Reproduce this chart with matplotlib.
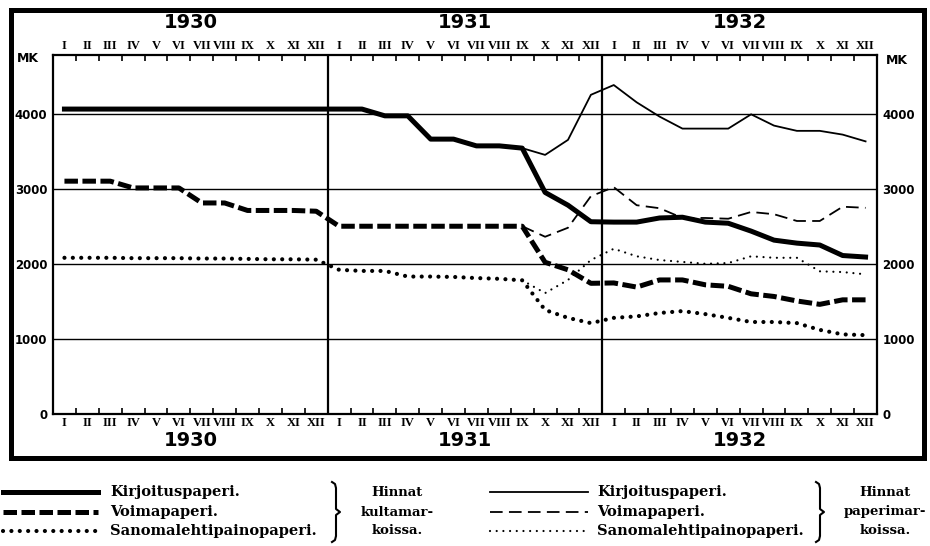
import matplotlib
matplotlib.use("Agg")
import matplotlib.pyplot as plt
from matplotlib.lines import Line2D
from matplotlib.patches import Rectangle

# months: 1930 I .. 1932 XII, plotted mid-month
months = ["I", "II", "III", "IV", "V", "VI", "VII", "VIII", "IX", "X", "XI", "XII"]
years = ["1930", "1931", "1932"]

# prices in gold marks, 1930 I .. 1932 XII (36 values)
kirjoitus_gold = [4060, 4060, 4060, 4060, 4060, 4060, 4060, 4060, 4060, 4060, 4060, 4060,
                  4060, 4060, 3970, 3970, 3660, 3660, 3570, 3570, 3540, 2950, 2780, 2560,
                  2555, 2555, 2610, 2620, 2555, 2540, 2435, 2315, 2275, 2250, 2110, 2090]
voima_gold = [3100, 3100, 3100, 3010, 3010, 3010, 2810, 2810, 2710, 2710, 2710, 2700,
              2500, 2500, 2500, 2500, 2500, 2500, 2500, 2500, 2500, 2020, 1920, 1740,
              1745, 1690, 1785, 1785, 1720, 1700, 1600, 1565, 1505, 1460, 1520, 1520]
sanoma_gold = [2080, 2080, 2080, 2075, 2075, 2075, 2070, 2070, 2065, 2060, 2060, 2055,
               1920, 1905, 1905, 1830, 1830, 1825, 1810, 1800, 1780, 1385, 1280, 1210,
               1280, 1300, 1345, 1370, 1330, 1280, 1225, 1225, 1210, 1120, 1060, 1050]

# prices in paper marks, 1931 IX .. 1932 XII
paper_start = 20
kirjoitus_paper = [3540, 3450, 3650, 4250, 4380, 4150, 3960, 3800, 3800, 3800, 3990, 3840,
                   3770, 3770, 3720, 3630]
voima_paper = [2500, 2360, 2480, 2900, 3020, 2780, 2740, 2610, 2610, 2600, 2690, 2660,
               2570, 2570, 2760, 2745]
sanoma_paper = [1780, 1610, 1785, 2050, 2200, 2100, 2050, 2025, 2000, 2010, 2100, 2080,
                2080, 1900, 1890, 1860]

W, H = 930, 546
fig = plt.figure(figsize=(W / 100, H / 100), dpi=100)
ax = fig.add_axes([53 / W, 1 - 414 / H, (877 - 53) / W, (414 - 55) / H])


def fx(px):
    return px / W


def fy(py):
    return 1 - py / H


x_gold = [i + 0.5 for i in range(36)]
x_paper = [i + 0.5 for i in range(paper_start, 36)]

thick = 3.6
ax.plot(x_gold, kirjoitus_gold, color="black", lw=thick, solid_joinstyle="round", zorder=3)
ax.plot(x_gold, voima_gold, color="black", lw=thick, linestyle=(0, (2.7, 0.9)), zorder=3)
ax.plot(x_gold, sanoma_gold, color="black", lw=3.0, linestyle=(0, (0.01, 2.0)),
        dash_capstyle="round", zorder=3)
ax.plot(x_paper, kirjoitus_paper, color="black", lw=1.3, zorder=3)
ax.plot(x_paper, voima_paper, color="black", lw=1.3, linestyle=(0, (7, 3.5)), zorder=3)
ax.plot(x_paper, sanoma_paper, color="black", lw=1.6, linestyle=(0, (0.01, 3.0)),
        dash_capstyle="round", zorder=3)

ax.set_xlim(0, 36)
ax.set_ylim(0, 4780)
for v in [1000, 2000, 3000, 4000]:
    ax.axhline(v, color="black", lw=1.0, zorder=1)
for v in [12, 24]:
    ax.axvline(v, color="black", lw=1.6, zorder=1)

for s in ax.spines.values():
    s.set_linewidth(1.6)

ax.set_xticks(range(1, 36))
ax.set_xticklabels([])
ax.tick_params(axis="x", which="major", direction="in", length=4, width=1.2,
               top=True, bottom=True)
ax.set_xticks(x_gold, minor=True)
ax.set_xticklabels(months * 3, minor=True, fontfamily="Liberation Serif",
                   fontweight="bold", fontsize=9)
ax.tick_params(axis="x", which="minor", length=0, pad=2, labeltop=True, labelbottom=True)

ax.set_yticks([0, 1000, 2000, 3000, 4000])
ax.set_yticklabels(["0", "1000", "2000", "3000", "4000"], fontweight="bold", fontsize=8.5)
ax.tick_params(axis="y", length=0, pad=4, labelleft=True, labelright=True)

# year headings
for i, yr in enumerate(years):
    xm = 53 + (877 - 53) * (i * 12 + 6) / 36
    fig.text(fx(xm), fy(23), yr, ha="center", va="center", fontsize=14, fontweight="bold")
    fig.text(fx(xm), fy(441), yr, ha="center", va="center", fontsize=14, fontweight="bold")

fig.text(fx(28), fy(58), "MK", ha="center", va="center", fontsize=9, fontweight="bold")
fig.text(fx(897), fy(60), "MK", ha="center", va="center", fontsize=9, fontweight="bold")

# outer frame
fig.patches.append(Rectangle((fx(11), fy(458)), fx(924) - fx(11), fy(10) - fy(458),
                             transform=fig.transFigure, fill=False, lw=3.6,
                             edgecolor="black"))

# legend
legend_rows = [492, 512, 531]
names = ["Kirjoituspaperi.", "Voimapaperi.", "Sanomalehtipainopaperi."]
gold_styles = [dict(lw=thick), dict(lw=thick, linestyle=(0, (2.7, 0.9))),
               dict(lw=3.0, linestyle=(0, (0.01, 2.0)), dash_capstyle="round")]
paper_styles = [dict(lw=1.3), dict(lw=1.3, linestyle=(0, (7, 3.5))),
                dict(lw=1.6, linestyle=(0, (0.01, 3.0)), dash_capstyle="round")]
serif = dict(fontfamily="DejaVu Serif", fontweight="bold", va="center")

for x0, x1, xt, styles in [(3, 98, 110, gold_styles), (490, 588, 597, paper_styles)]:
    for yrow, name, st in zip(legend_rows, names, styles):
        fig.add_artist(Line2D([fx(x0), fx(x1)], [fy(yrow), fy(yrow)],
                              transform=fig.transFigure, color="black", **st))
        fig.text(fx(xt), fy(yrow), name, ha="left", fontsize=10.5, **serif)


def brace(x0, top, bot):
    mid = (top + bot) / 2
    xs = [x0, x0 + 3, x0 + 4, x0 + 4, x0 + 8, x0 + 4, x0 + 4, x0 + 3, x0]
    ys = [top, top + 2, top + 6, mid - 3, mid, mid + 3, bot - 6, bot - 2, bot]
    fig.add_artist(Line2D([fx(v) for v in xs], [fy(v) for v in ys],
                          transform=fig.transFigure, color="black", lw=1.5))


brace(332, 482, 542)
brace(816, 482, 542)

for xc, word in [(397, "kultamar-"), (885, "paperimar-")]:
    for yrow, t in zip(legend_rows, ["Hinnat", word, "koissa."]):
        fig.text(fx(xc), fy(yrow), t, ha="center", fontsize=9.5, **serif)

fig.savefig("out.png", dpi=100)
